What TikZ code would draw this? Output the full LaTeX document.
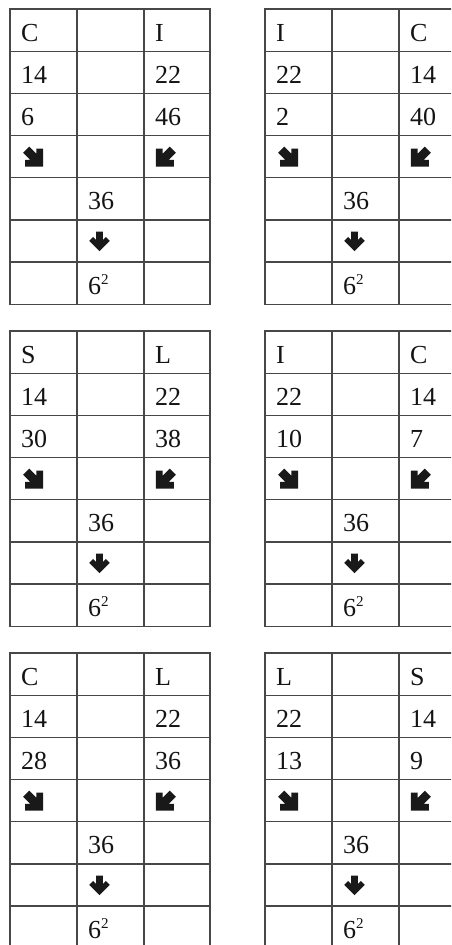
\documentclass[tikz,border=0pt]{standalone}
\usepackage{fontspec}
\setmainfont{Liberation Serif}
\tikzset{
  gridline/.style={draw=black!72, line width=1.3pt, line cap=rect},
  cell/.style={anchor=base west, inner sep=0pt, font=\fontsize{26}{30}\selectfont, text=black!92},
  arrowfill/.style={fill=black!90},
}
% downward heavy arrow (coordinates with y pointing down)
\newcommand\dnpoly{(-3.2,-9) -- (3.2,-9) -- (3.2,-1.28) -- (5.96,-4.04) -- (9.5,-0.5) -- (0,9) -- (-9.5,-0.5) -- (-5.96,-4.04) -- (-3.2,-1.28) -- cycle}
% south-east heavy arrow
\newcommand\sepoly{(-8.63,-4.10) -- (-4.10,-8.63) -- (1.36,-3.17) -- (1.36,-7.07) -- (6.36,-7.07) -- (6.36,6.36) -- (-7.07,6.36) -- (-7.07,1.36) -- (-3.17,1.36) -- cycle}
% south-west heavy arrow
\newcommand\swpoly{(8.63,-4.10) -- (4.10,-8.63) -- (-1.36,-3.17) -- (-1.36,-7.07) -- (-6.36,-7.07) -- (-6.36,6.36) -- (7.07,6.36) -- (7.07,1.36) -- (3.17,1.36) -- cycle}
\newcommand\sqsup{6\raisebox{0.36em}{\fontsize{15}{15}\selectfont 2}}
\newcommand\sumtable[9]{%
  \begin{scope}[shift={(#2,#3)}]
    \foreach \k in {0,...,7} \draw[gridline] (0,{\k*42.17}) -- (200,{\k*42.17});
    \foreach \c in {0,67,134,200} \draw[gridline] (\c,0) -- (\c,295.2);
    \node[cell] (#1-h1) at (11,32.3) {#4};
    \node[cell] (#1-h2) at (145,32.3) {#5};
    \node[cell] (#1-a1) at (11,74.5) {#6};
    \node[cell] (#1-a2) at (145,74.5) {#7};
    \node[cell] (#1-b1) at (11,116.6) {#8};
    \node[cell] (#1-b2) at (145,116.6) {#9};
    \begin{scope}[shift={(24.6,{3*42.17+22.6})}, scale=1.33]
      \fill[arrowfill] \sepoly;
    \end{scope}
    \begin{scope}[shift={(154.4,{3*42.17+22.6})}, scale=1.33]
      \fill[arrowfill] \swpoly;
    \end{scope}
    \node[cell] (#1-s) at (78,{4*42.17+32.3}) {36};
    \begin{scope}[shift={(89.5,{5*42.17+21.5})}, scale=1.08]
      \fill[arrowfill] \dnpoly;
    \end{scope}
    \node[cell] (#1-r) at (78,{6*42.17+32.3}) {\sqsup};
  \end{scope}}
\begin{document}
\begin{tikzpicture}[x=1pt,y=-1pt]
  \useasboundingbox (0,0) rectangle (451,945);
  \clip (0,0) rectangle (451,945);
  \fill[white] (0,0) rectangle (451,945);
  \sumtable{t1}{10}{9}{C}{I}{14}{22}{6}{46}
  \sumtable{t2}{265}{9}{I}{C}{22}{14}{2}{40}
  \sumtable{t3}{10}{331}{S}{L}{14}{22}{30}{38}
  \sumtable{t4}{265}{331}{I}{C}{22}{14}{10}{7}
  \sumtable{t5}{10}{653}{C}{L}{14}{22}{28}{36}
  \sumtable{t6}{265}{653}{L}{S}{22}{14}{13}{9}
\end{tikzpicture}
\end{document}
